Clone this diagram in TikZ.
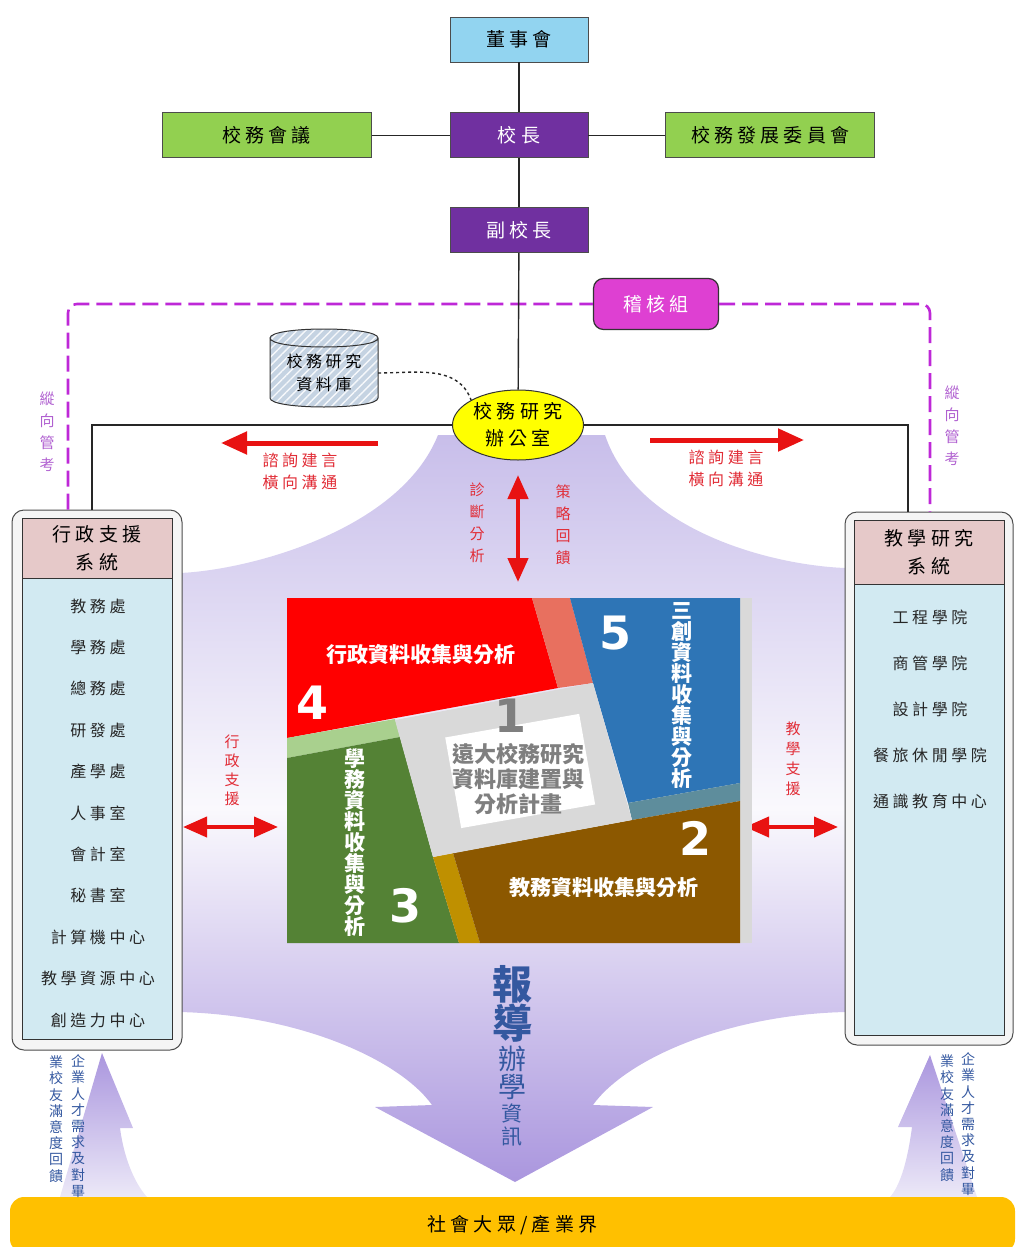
\documentclass[tikz,border=0pt]{standalone}
\usepackage{fontspec}
\newfontfamily\cjk{Noto Sans CJK TC}
\newfontfamily\cjkw[LetterSpace=22]{Noto Sans CJK TC}
\newfontfamily\numf{DejaVu Sans}
\usetikzlibrary{arrows.meta,patterns.meta,positioning,shapes.geometric}
\definecolor{boardblue}{RGB}{146,212,240}
\definecolor{prespurple}{RGB}{112,48,160}
\definecolor{councilgreen}{RGB}{146,208,80}
\definecolor{auditpink}{RGB}{222,64,210}
\definecolor{auditline}{RGB}{190,40,215}
\definecolor{audittext}{RGB}{176,96,208}
\definecolor{dbfill}{RGB}{197,211,226}
\definecolor{officeyellow}{RGB}{255,255,0}
\definecolor{headpink}{RGB}{230,201,201}
\definecolor{listblue}{RGB}{210,234,242}
\definecolor{arrowred}{RGB}{232,18,18}
\definecolor{labelred}{RGB}{225,45,55}
\definecolor{infoblue}{RGB}{52,88,160}
\definecolor{lavtop}{RGB}{200,190,234}
\definecolor{lavmid}{RGB}{250,249,253}
\definecolor{lavbot}{RGB}{170,150,222}
\definecolor{publicgold}{RGB}{255,192,0}
\definecolor{blkred}{RGB}{255,0,0}
\definecolor{blksalmon}{RGB}{232,112,95}
\definecolor{blkblue}{RGB}{46,117,182}
\definecolor{blkteal}{RGB}{94,141,156}
\definecolor{blkgreen}{RGB}{84,130,53}
\definecolor{blklgreen}{RGB}{169,208,142}
\definecolor{blkgold}{RGB}{191,144,0}
\definecolor{blkbrown}{RGB}{140,88,0}
\definecolor{blkgray}{RGB}{217,217,217}
\definecolor{txtgray}{RGB}{127,127,127}
\begin{document}
\begin{tikzpicture}[x=1pt,y=-1pt,font=\cjk,
  box/.style={draw=black!70, line width=0.8pt, minimum width=138, minimum height=45, inner sep=0pt, font=\cjkw\fontsize{19}{22}\selectfont},
  lead/.style={box, fill=prespurple, text=white},
  side/.style={box, fill=councilgreen, minimum width=209},
  link/.style={draw=black!85, line width=1.4pt},
  dashline/.style={draw=auditline, line width=2.6pt, dash pattern=on 16pt off 7pt, rounded corners=9pt},
  redarr/.style={draw=arrowred, line width=5pt, -{Triangle[length=26pt,width=22pt]}},
  redboth/.style={draw=arrowred, line width=4.5pt, {Triangle[length=24pt,width=20pt]}-{Triangle[length=24pt,width=20pt]}},
  vlabel/.style={align=center, inner sep=0pt, font=\cjk\fontsize{15}{22}\selectfont},
  note/.style={align=center, inner sep=0pt, text=labelred, font=\cjkw\fontsize{16}{22}\selectfont},
  panel/.style={draw=black!70, line width=1pt, fill=black!4, rounded corners=12pt, minimum width=170, minimum height=540},
  head/.style={draw=black!80, line width=0.8pt, fill=headpink, minimum width=150, minimum height=60, align=center, font=\cjkw\fontsize{19}{28}\selectfont},
  list/.style={draw=black!80, line width=0.8pt, fill=listblue, minimum width=150},
  item/.style={font=\cjkw\fontsize{16}{18}\selectfont, text=black!85},
  blk/.style={text=white, font=\cjk\bfseries\fontsize{21}{21}\selectfont, align=center, inner sep=0pt},
  num/.style={text=white, font=\numf\bfseries\fontsize{46}{46}\selectfont, inner sep=0pt},
  feed/.style={align=center, inner sep=0pt, text=infoblue, font=\cjk\fontsize{14}{16.2}\selectfont},
]
\useasboundingbox (0,0) rectangle (1017,1247);

\shade[top color=lavtop, bottom color=lavbot, middle color=lavmid]
  (438,435) -- (605,435) .. controls (637,530) and (770,565) .. (845,568) -- (845,1012)
  .. controls (725,1015) and (625,1060) .. (593,1105) -- (653,1107) -- (515,1182) -- (375,1107) -- (432,1105)
  .. controls (400,1060) and (300,1015) .. (180,1012) -- (180,573)
  .. controls (250,570) and (400,530) .. (438,435) -- cycle;
\shade[top color=lavbot, bottom color=lavtop!35]
  (102,1053) -- (133,1128) -- (120,1128) .. controls (125,1165) and (138,1187) .. (147,1197) -- (60,1197) -- cycle;
\shade[top color=lavbot, bottom color=lavtop!35]
  (930,1055) -- (977,1197) -- (890,1197) .. controls (899,1187) and (907,1165) .. (912,1127) -- (898,1127) -- cycle;
\node[fill=publicgold, rounded corners=14pt, minimum width=1005, minimum height=56, font=\cjkw\fontsize{19}{22}\selectfont] (public) at (512.5,1225) {社會大眾/產業界};
\node[feed] (lf1) at (78,1126) {企\\業\\人\\才\\需\\求\\及\\對\\畢};
\node[feed] (lf2) at (56,1119) {業\\校\\友\\滿\\意\\度\\回\\饋};
\node[feed] (rf1) at (968,1124) {企\\業\\人\\才\\需\\求\\及\\對\\畢};
\node[feed] (rf2) at (947,1118) {業\\校\\友\\滿\\意\\度\\回\\饋};

\node[box, fill=boardblue] (board) at (519,39.5) {董事會};
\node[lead, below=50pt of board] (president) {校長};
\node[lead, below=49pt of president] (vice) {副校長};
\node[side, left=78pt of president] (council) {校務會議};
\node[side, right=77pt of president] (devcomm) {校務發展委員會};
\path[link] (board) -- (president) (council) -- (president) (president) -- (devcomm) (president) -- (vice);

\node[panel] (lpanel) at (97,780) {};
\node[head, below=8pt of lpanel.north] (lhead) {行政支援\\系統};
\node[list, minimum height=461, below=0pt of lhead] (llist) {};
\foreach \t [count=\i] in {教務處,學務處,總務處,研發處,產學處,人事室,會計室,秘書室,計算機中心,教學資源中心,創造力中心}
  \node[item] (l\i) at (98,{606+41.4*(\i-1)}) {\t};
\node[panel, minimum width=168, minimum height=533] (rpanel) at (929,778.5) {};
\node[head, minimum height=64, below=8pt of rpanel.north] (rhead) {教學研究\\系統};
\node[list, minimum height=451, below=0pt of rhead] (rlist) {};
\foreach \t [count=\i] in {工程學院,商管學院,設計學院,餐旅休閒學院,通識教育中心}
  \node[item] (r\i) at (930,{617+46*(\i-1)}) {\t};

\node[draw=black!80, line width=1.2pt, rounded corners=10pt, fill=auditpink, text=white, minimum width=125, minimum height=51, font=\cjkw\fontsize{19}{22}\selectfont] (audit) at (656,304) {稽核組};
\draw[dashline] ([xshift=-29pt]lpanel.north) |- (audit.west);
\draw[dashline] (audit.east) -| ([xshift=1pt]rpanel.north);
\node[vlabel, text=audittext] (lcheck) at (47,432) {縱\\向\\管\\考};
\node[vlabel, text=audittext] (rcheck) at (952,426) {縱\\向\\管\\考};

\fill[dbfill] (270,338) -- (270,398) .. controls (270,410) and (378,410) .. (378,398) -- (378,338) .. controls (378,326) and (270,326) .. (270,338) -- cycle;
\fill[pattern={Lines[angle=45,distance=6pt,line width=1.4pt]}, pattern color=white!85!dbfill] (270,338) -- (270,398) .. controls (270,410) and (378,410) .. (378,398) -- (378,338) .. controls (378,326) and (270,326) .. (270,338) -- cycle;
\draw[black!80, line width=1pt] (270,338) -- (270,398) .. controls (270,410) and (378,410) .. (378,398) -- (378,338) .. controls (378,326) and (270,326) .. (270,338) .. controls (270,350) and (378,350) .. (378,338);
\node[minimum width=108, minimum height=60, align=center, font=\cjkw\fontsize{16}{23}\selectfont] (db) at (324,373) {校務研究\\資料庫};
\node[ellipse, draw=black!80, line width=1pt, fill=officeyellow, minimum width=131, minimum height=70, inner sep=0pt, align=center, font=\cjkw\fontsize{19}{27}\selectfont] (office) at (518,425) {校務研究\\辦公室};
\draw[link] (vice) -- (office);
\draw[black!85, line width=1.4pt, dashed] (db.east) to[out=0,in=110] (office.152);
\draw[link] (office.west) -| ([xshift=-5pt]lpanel.north);
\draw[link] (office.east) -| ([xshift=-21pt]rpanel.north);

\draw[redarr] (378,443) -- (221,443);
\draw[redarr] (650,440) -- (804,440);
\node[note] (lnote) at (300,471) {諮詢建言\\橫向溝通};
\node[note] (rnote) at (726,468) {諮詢建言\\橫向溝通};
\draw[redboth] (518,475) -- (518,582);
\node[vlabel, text=labelred] (diag) at (477,523) {診\\斷\\分\\析};
\node[vlabel, text=labelred] (strat) at (563,525) {策\\略\\回\\饋};
\draw[redboth, line width=4pt] (183,827) -- (278,827);
\draw[redboth, line width=4pt] (745,827) -- (838,827);
\node[vlabel, text=labelred, font=\cjk\fontsize{15}{19}\selectfont] (lsup) at (232,770) {行\\政\\支\\援};
\node[vlabel, text=labelred, font=\cjk\fontsize{15}{20}\selectfont] (rsup) at (793,759) {教\\學\\支\\援};

\fill[blkgray] (740,598) rectangle (752,943);
\fill[blkred] (287,598) -- (532,598) -- (558,688) -- (287,738) -- cycle;
\fill[blksalmon] (532,598) -- (570,598) -- (593,683) -- (558,688) -- cycle;
\fill[blkblue] (570,598) -- (740,598) -- (740,783) -- (628,803) -- (593,683) -- cycle;
\fill[blkteal] (628,803) -- (740,783) -- (740,801) -- (632,820) -- cycle;
\fill[blklgreen] (287,738) -- (395,719) -- (400,737) -- (287,758) -- cycle;
\fill[blkgreen] (287,758) -- (400,737) -- (433,857) -- (459,943) -- (287,943) -- cycle;
\fill[blkgold] (433,857) -- (453,853) -- (480,943) -- (459,943) -- cycle;
\fill[blkbrown] (453,853) -- (632,820) -- (740,801) -- (740,943) -- (480,943) -- cycle;
\fill[blkgray] (395,720) -- (593,683) -- (632,820) -- (433,857) -- cycle;
\fill[white, rotate around={10:(520,770)}] (452,725) rectangle (588,817);
\node[num, text=txtgray] (n1) at (510,716) {1};
\node[num] (n2) at (695,838) {2};
\node[num] (n3) at (405,906) {3};
\node[num] (n4) at (312,703) {4};
\node[num] (n5) at (615,633) {5};
\node[blk, text=txtgray, font=\cjk\bfseries\fontsize{22}{25}\selectfont] (plan) at (518,779) {遠大校務研究\\資料庫建置與\\分析計畫};
\node[blk] (admin) at (421,655) {行政資料收集與分析};
\node[blk] (acad) at (604,888) {教務資料收集與分析};
\node[blk] (stud) at (355,843) {學\\務\\資\\料\\收\\集\\與\\分\\析};
\node[blk] (three) at (682,696) {三\\創\\資\\料\\收\\集\\與\\分\\析};

\foreach \c/\s/\y/\w [count=\i] in {報/40/984/\bfseries, 導/40/1023/\bfseries, 辦/28/1059/, 學/28/1087/, 資/21/1113/, 訊/21/1136/}
  \node[inner sep=0pt, text=infoblue, font=\cjk\w\fontsize{\s}{\s}\selectfont] (rep\i) at (512,\y) {\c};
\end{tikzpicture}
\end{document}
